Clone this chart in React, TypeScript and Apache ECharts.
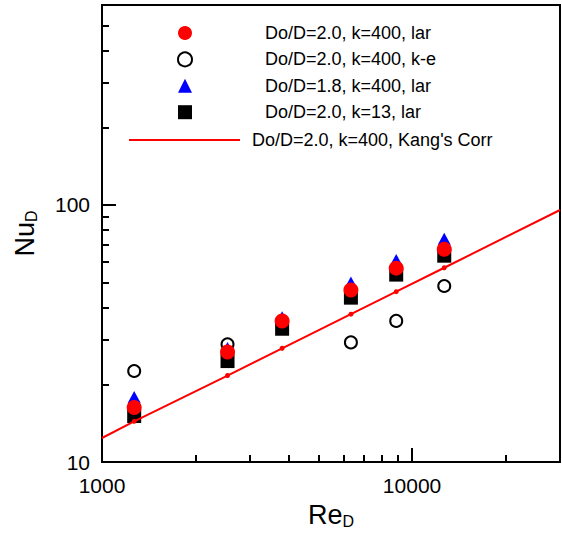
import React, { useEffect, useRef } from "react";
import * as echarts from "echarts";

// Reynolds numbers of the simulated cases
const reValues = [1270, 2540, 3810, 6350, 8890, 12700];
// Nusselt numbers per case
const nuLar20k400 = [16.3, 26.8, 35.4, 46.7, 56.8, 67.3];
const nuKe20k400 = [22.6, 28.7, 35.0, 29.2, 35.4, 48.4];
const nuLar18k400 = [17.9, 27.8, 36.6, 49.9, 61.1, 73.9];
const nuLar20k13 = [15.1, 24.7, 33.0, 43.6, 53.6, 63.5];
// Kang's correlation line
const kangRe = [1000, 1270, 2540, 3810, 6350, 8890, 12700, 30000];
const kangNu = [12.4, 14.4, 21.7, 27.7, 37.6, 46.0, 57.0, 95.6];

// axis ranges and minor tick values
const xRange = [1000, 30000];
const yRange = [10, 600];
const xMinorTicks = [2000, 3000, 4000, 5000, 6000, 7000, 8000, 9000, 20000];
const yMinorTicks = [20, 30, 40, 50, 60, 70, 80, 90, 200, 300, 400, 500];

const names = [
  "Do/D=2.0, k=400, lar",
  "Do/D=2.0, k=400, k-e",
  "Do/D=1.8, k=400, lar",
  "Do/D=2.0, k=13, lar",
  "Do/D=2.0, k=400, Kang's Corr",
];

const pairs = (xs: number[], ys: number[]) => xs.map((x, i) => [x, ys[i]]);

const FONT = "Arial, 'Liberation Sans', sans-serif";

export default function App() {
  const ref = useRef<HTMLDivElement>(null);
  useEffect(() => {
    if (!ref.current) return;
    const chart = echarts.init(ref.current, undefined, { renderer: "svg" });
    const tickStyle = { color: "#000", width: 2 };
    // overlay axis (log10 space) carrying only the minor ticks
    const minorAxis = (range: number[], ticks: number[], position: string) => ({
      type: "value",
      position,
      min: Math.log10(range[0]),
      max: Math.log10(range[1]),
      axisLine: { show: false },
      splitLine: { show: false },
      axisLabel: { show: false },
      axisTick: {
        show: true,
        inside: true,
        length: 7,
        customValues: ticks.map((t) => Math.log10(t)),
        lineStyle: tickStyle,
      },
    });
    const nameRich = {
      a: { fontSize: 27, fontFamily: FONT, color: "#000" },
      b: { fontSize: 16, fontFamily: FONT, color: "#000", padding: [12, 0, 0, 0] },
    };
    const legendText = {
      fontSize: 18,
      lineHeight: 16,
      fontFamily: FONT,
      color: "#000",
    };
    const powerLabel = (v: number) => {
      const p = Math.log10(v);
      return Math.abs(p - Math.round(p)) < 1e-9 ? String(Math.round(v)) : "";
    };
    const option: any = {
      animation: false,
      backgroundColor: "#fff",
      textStyle: { fontFamily: FONT },
      grid: {
        left: 102,
        right: 2,
        top: 5,
        bottom: 73,
        show: true,
        borderColor: "#000",
        borderWidth: 2,
        backgroundColor: "transparent",
        outerBoundsMode: "none",
        containLabel: false,
      },
      xAxis: [
        {
          type: "log",
          logBase: 10,
          min: xRange[0],
          max: xRange[1],
          position: "bottom",
          splitLine: { show: false },
          minorTick: { show: false },
          axisLine: { show: true, lineStyle: { color: "#000", width: 2 } },
          axisTick: { show: true, inside: true, length: 14, lineStyle: tickStyle },
          axisLabel: {
            show: true,
            showMaxLabel: false,
            formatter: powerLabel,
            color: "#000",
            fontSize: 21,
            fontFamily: FONT,
            margin: 13,
          },
          name: "{a|Re}{b|D}",
          nameLocation: "middle",
          nameGap: 39,
          nameTextStyle: { rich: nameRich },
        },
        minorAxis(xRange, xMinorTicks, "bottom"),
      ],
      yAxis: [
        {
          type: "log",
          logBase: 10,
          min: yRange[0],
          max: yRange[1],
          position: "left",
          splitLine: { show: false },
          minorTick: { show: false },
          axisLine: { show: true, lineStyle: { color: "#000", width: 2 } },
          axisTick: { show: true, inside: true, length: 14, lineStyle: tickStyle },
          axisLabel: {
            show: true,
            showMaxLabel: false,
            formatter: powerLabel,
            color: "#000",
            fontSize: 21,
            fontFamily: FONT,
            margin: 12,
          },
          name: "{a|Nu}{b|D}",
          nameLocation: "middle",
          nameRotate: 90,
          nameGap: 63,
          nameTextStyle: { rich: nameRich },
        },
        { ...minorAxis(yRange, yMinorTicks, "left"), offset: 0 },
      ],
      legend: [
        {
          orient: "vertical",
          left: 177,
          top: 24,
          padding: 0,
          itemWidth: 14,
          itemHeight: 14,
          itemGap: 8.4,
          data: names.slice(0, 4),
          selectedMode: false,
          textStyle: { ...legendText, padding: [0, 0, 0, 68] },
        },
        {
          orient: "vertical",
          left: 128,
          top: 131,
          padding: 0,
          itemWidth: 111,
          itemHeight: 14,
          data: [names[4]],
          selectedMode: false,
          itemStyle: { opacity: 0 },
          lineStyle: { color: "#ff0000", width: 2, opacity: 1 },
          textStyle: { ...legendText, padding: [0, 0, 0, 7] },
        },
      ],
      series: [
        {
          name: names[0],
          type: "scatter",
          data: pairs(reValues, nuLar20k400),
          symbol: "circle",
          symbolSize: 15,
          itemStyle: { color: "#ff0000", opacity: 1 },
          z: 6,
        },
        {
          name: names[1],
          type: "scatter",
          data: pairs(reValues, nuKe20k400),
          symbol: "emptyCircle",
          symbolSize: 12,
          itemStyle: { color: "#000", borderWidth: 1.8, opacity: 1 },
          z: 3,
        },
        {
          name: names[2],
          type: "scatter",
          data: pairs(reValues, nuLar18k400),
          symbol: "triangle",
          symbolSize: [13, 12],
          itemStyle: { color: "#0000ff", opacity: 1 },
          z: 4,
        },
        {
          name: names[3],
          type: "scatter",
          data: pairs(reValues, nuLar20k13),
          symbol: "rect",
          symbolSize: 14,
          itemStyle: { color: "#000", opacity: 1 },
          z: 2,
        },
        {
          name: names[4],
          type: "line",
          data: pairs(kangRe, kangNu),
          symbol: "none",
          lineStyle: { color: "#ff0000", width: 2 },
          itemStyle: { color: "#ff0000" },
          z: 5,
        },
        {
          name: "kangPoints",
          type: "scatter",
          data: pairs(kangRe.slice(1, -1), kangNu.slice(1, -1)),
          symbol: "circle",
          symbolSize: 5,
          itemStyle: { color: "#ff0000", opacity: 1 },
          z: 5,
        },
      ],
    };
    chart.setOption(option);
    return () => chart.dispose();
  }, []);
  return (
    <div
      ref={ref}
      style={{ position: "fixed", left: 0, top: 0, width: 562, height: 535 }}
    />
  );
}
